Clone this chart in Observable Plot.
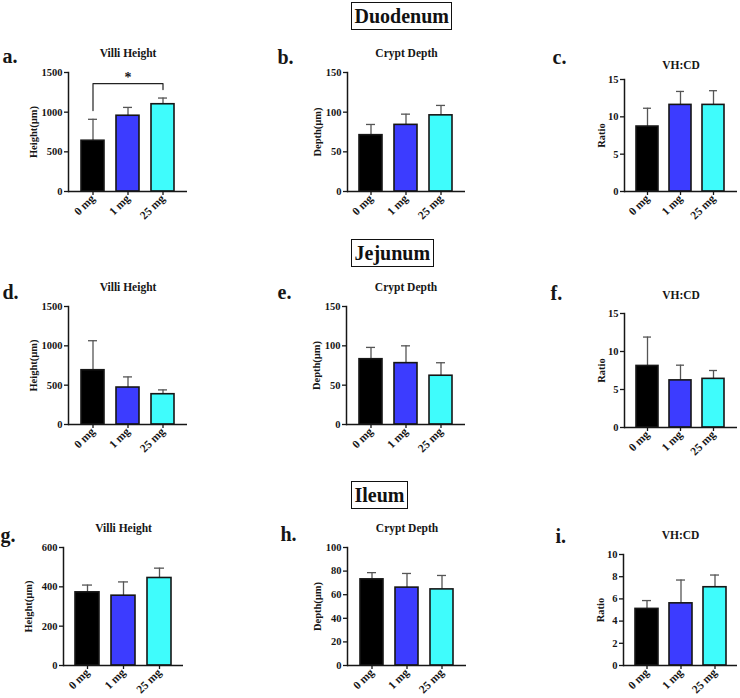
<!DOCTYPE html>
<html>
<head>
<meta charset="utf-8">
<script src="https://cdn.jsdelivr.net/npm/d3@7"></script>
<script src="https://cdn.jsdelivr.net/npm/@observablehq/plot@0.6"></script>
<style>
  html, body { margin: 0; padding: 0; background: #fff; }
  #fig { position: relative; width: 740px; height: 698px; overflow: hidden; background: #fff;
         font-family: "Liberation Serif", "Times New Roman", serif; }
  .cell { position: absolute; }
  .hdr { position: absolute; border: 1.5px solid #111; padding: 0 2.5px; font-weight: bold;
         font-size: 20px; line-height: 26px; color: #111; background: #fff; z-index: 5;
         font-family: "Liberation Serif", "Times New Roman", serif; white-space: nowrap; }
</style>
</head>
<body>
<div id="fig"></div>
<script>
// ---------------- data ----------------
const doses = ["0 mg", "1 mg", "25 mg"];
const barColors = ["#000000", "#3c3cff", "#3ffcfc"];

const sections = ["Duodenum", "Jejunum", "Ileum"];
const panelLetters = ["a.", "b.", "c.", "d.", "e.", "f.", "g.", "h.", "i."];
const panelTitles = ["Villi Height", "Crypt Depth", "VH:CD"];
const yLabels = ["Height(µm)", "Depth(µm)", "Ratio"];

// Duodenum
const duoVH = [640, 955, 1100];
const duoVHsd = [270, 105, 78];
const duoCD = [71, 84, 96];
const duoCDsd = [13.5, 13.5, 12.5];
const duoRatio = [8.7, 11.6, 11.6];
const duoRatioSd = [2.45, 1.8, 1.9];
// Jejunum
const jejVH = [690, 470, 385];
const jejVHsd = [375, 135, 55];
const jejCD = [83, 78, 62];
const jejCDsd = [15, 22, 16.5];
const jejRatio = [8.1, 6.2, 6.4];
const jejRatioSd = [3.8, 2.0, 1.1];
// Ileum
const ileVH = [372, 355, 445];
const ileVHsd = [37, 70, 50];
const ileCD = [73, 66, 64.5];
const ileCDsd = [5.7, 12, 11.8];
const ileRatio = [5.1, 5.6, 7.05];
const ileRatioSd = [0.75, 2.1, 1.1];

// tick labels
const ticksVH1500 = [0, 500, 1000, 1500];
const ticksCD150 = [0, 50, 100, 150];
const ticksRatio15 = [0, 5, 10, 15];
const ticksVH600 = [0, 200, 400, 600];
const ticksCD100 = [0, 20, 40, 60, 80, 100];
const ticksRatio10 = [0, 2, 4, 6, 8, 10];

// significance bracket (panel a)
const sigBracketX = ["0 mg", "0 mg", "25 mg", "25 mg"];
const sigBracketY = [1020, 1360, 1360, 1285];
const sigLabel = ["*"];
const sigLabelX = ["1 mg"];
const sigLabelY = [1440];

// ---------------- layout (positions only) ----------------
const layouts = [
  {left: 0,   top: 35, width: 245, height: 210, ml: 68,  mr: 58, mt: 37, mb: 54, lOff: 39, ldx: -66, ldy: -10, tdy: -16},
  {left: 250, top: 35, width: 240, height: 210, ml: 97,  mr: 25, mt: 37, mb: 54, lOff: 34, ldx: -70, ldy: -9,  tdy: -16},
  {left: 500, top: 35, width: 240, height: 210, ml: 124, mr: 3,  mt: 44, mb: 54, lOff: 27, ldx: -72, ldy: -16, tdy: -11},
  {left: 0,   top: 272, width: 245, height: 210, ml: 68, mr: 58, mt: 34, mb: 58, lOff: 39, ldx: -66, ldy: -8,  tdy: -16},
  {left: 250, top: 272, width: 240, height: 210, ml: 96, mr: 25, mt: 34, mb: 58, lOff: 34, ldx: -69, ldy: -8,  tdy: -16},
  {left: 500, top: 272, width: 240, height: 210, ml: 124, mr: 3, mt: 41, mb: 55, lOff: 27, ldx: -74, ldy: -14, tdy: -15},
  {left: 0,   top: 512, width: 245, height: 186, ml: 63, mr: 62, mt: 35, mb: 33, lOff: 39, ldx: -63, ldy: -6,  tdy: -16},
  {left: 250, top: 512, width: 240, height: 186, ml: 97, mr: 24, mt: 35, mb: 33, lOff: 34, ldx: -67, ldy: -7,  tdy: -16},
  {left: 500, top: 512, width: 240, height: 186, ml: 123, mr: 3, mt: 42, mb: 33, lOff: 27, ldx: -68, ldy: -12, tdy: -16}
];
const headerBoxes = [
  {left: 351, top: 2},
  {left: 351, top: 239},
  {left: 351, top: 481}
];

const panelValues = [
  [duoVH, duoVHsd, ticksVH1500], [duoCD, duoCDsd, ticksCD150], [duoRatio, duoRatioSd, ticksRatio15],
  [jejVH, jejVHsd, ticksVH1500], [jejCD, jejCDsd, ticksCD150], [jejRatio, jejRatioSd, ticksRatio15],
  [ileVH, ileVHsd, ticksVH600], [ileCD, ileCDsd, ticksCD100], [ileRatio, ileRatioSd, ticksRatio10]
];

const fig = document.getElementById("fig");
const FONT = '"Liberation Serif", "Times New Roman", serif';
const INK = "#161616";

panelValues.forEach(([vals, sds, ticks], k) => {
  const L = layouts[k];
  const col = k % 3;
  const data = doses.map((d, i) => ({dose: d, mean: vals[i], top: vals[i] + sds[i]}));
  const marks = [
    Plot.ruleX(data, {x: "dose", y1: "mean", y2: "top", stroke: "#555", strokeWidth: 1.3}),
    Plot.tickY(data, {x: "dose", y: "top", stroke: "#555", strokeWidth: 1.3, insetLeft: 7, insetRight: 7}),
    Plot.barY(data, {x: "dose", y: "mean", fill: "dose", stroke: INK, strokeWidth: 1.6}),
    Plot.frame({anchor: "left", stroke: INK, strokeWidth: 1.5}),
    Plot.ruleY([0], {stroke: INK, strokeWidth: 1.5}),
    Plot.axisY({ticks, tickFormat: d => String(d), tickSize: 4, tickPadding: 2, stroke: INK, strokeWidth: 1.3,
                fontSize: 10.5, label: yLabels[col], labelAnchor: "center", labelArrow: "none", labelOffset: L.lOff}),
    Plot.axisX({tickRotate: -45, tickSize: 4, tickPadding: 1, label: null, stroke: INK, strokeWidth: 1.3,
                fontSize: 11.5}),
    Plot.text([panelTitles[col]], {text: d => d, frameAnchor: "top", dy: L.tdy, lineAnchor: "bottom",
               fontSize: 11.5, fontWeight: "bold", fill: INK}),
    Plot.text([panelLetters[k]], {text: d => d, frameAnchor: "top-left", dx: L.ldx, dy: L.ldy, textAnchor: "start",
               lineAnchor: "bottom", fontSize: 20, fontWeight: "bold", fill: INK})
  ];
  if (k === 0) {
    const br = sigBracketX.map((x, i) => ({x, y: sigBracketY[i]}));
    marks.push(Plot.line(br, {x: "x", y: "y", stroke: "#222", strokeWidth: 1.2}));
    marks.push(Plot.text(sigLabel, {text: d => d, x: sigLabelX, y: sigLabelY, fontSize: 14, fontWeight: "bold", fill: INK}));
  }
  const chart = Plot.plot({
    width: L.width, height: L.height,
    marginLeft: L.ml, marginRight: L.mr, marginTop: L.mt, marginBottom: L.mb,
    x: {domain: doses, padding: 0.33},
    y: {domain: [ticks[0], ticks[ticks.length - 1]]},
    color: {domain: doses, range: barColors},
    style: {fontFamily: FONT, fontSize: "10px", fontWeight: "bold", color: INK, background: "transparent", overflow: "visible"},
    marks
  });
  const cell = document.createElement("div");
  cell.className = "cell";
  cell.style.left = L.left + "px";
  cell.style.top = L.top + "px";
  cell.appendChild(chart);
  fig.appendChild(cell);
});

sections.forEach((s, i) => {
  const h = document.createElement("div");
  h.className = "hdr";
  h.style.left = headerBoxes[i].left + "px";
  h.style.top = headerBoxes[i].top + "px";
  h.textContent = s;
  fig.appendChild(h);
});
</script>
</body>
</html>
